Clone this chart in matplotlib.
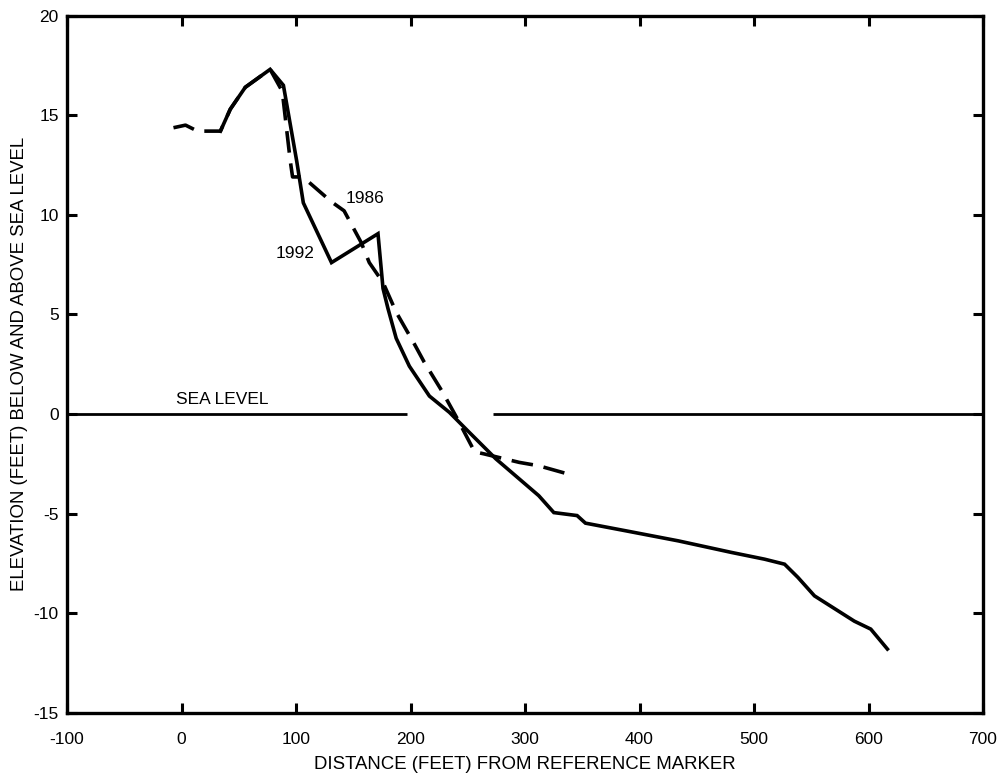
import numpy as np
import matplotlib
matplotlib.use("Agg")
import matplotlib.pyplot as plt

plt.rcParams['font.family'] = ['Liberation Sans', 'DejaVu Sans']
plt.rcParams['axes.unicode_minus'] = False

# 1992 profile (solid)
x_1992 = [34, 42.6, 55.7, 77.4, 89, 100.6, 106.4, 131, 171.6, 176, 180.3, 187.5, 199,
          216.5, 234, 251.3, 274.5, 312, 325.2, 345.5, 352.8, 387.6, 433.9, 480.3,
          509.3, 526.7, 538.3, 552.8, 587.6, 602, 616.5]
y_1992 = [14.2, 15.3, 16.4, 17.3, 16.5, 12.7, 10.6, 7.6, 9.05, 6.3, 5.3, 3.8, 2.4,
          0.9, 0.08, -0.92, -2.25, -4.1, -4.95, -5.1, -5.48, -5.86, -6.37, -6.95,
          -7.29, -7.54, -8.2, -9.13, -10.4, -10.8, -11.8]

# 1986 profile (dashed)
x_1986 = [-7, 3.5, 14, 34, 42.6, 55.7, 77.4, 88, 95, 97, 106, 131, 142, 157, 164,
          176, 187.6, 203.5, 212, 228, 241, 256, 264, 295, 312, 343]
y_1986 = [14.37, 14.5, 14.2, 14.2, 15.3, 16.4, 17.3, 16.2, 12.7, 11.9, 11.9, 10.65,
          10.2, 8.6, 7.6, 6.6, 5.1, 3.5, 2.6, 1.1, -0.25, -1.9, -2.0, -2.43, -2.6, -3.1]

# sea level line pieces
sea_x1 = [-100, 197]
sea_x2 = [272, 700]

fig = plt.figure(figsize=(10, 7.79), dpi=100)
ax = fig.add_axes([0.067, 0.085, 0.916, 0.895])

ax.plot(sea_x1, [0, 0], color='black', lw=2.0, solid_capstyle='butt')
ax.plot(sea_x2, [0, 0], color='black', lw=2.0, solid_capstyle='butt')

ax.plot(x_1992, y_1992, color='black', lw=2.6, solid_joinstyle='miter')
ax.plot(x_1986, y_1986, color='black', lw=2.6, linestyle=(0, (6, 3)),
        dash_capstyle='butt')

ax.text(-5, 0.35, 'SEA LEVEL', fontsize=12.5, ha='left', va='bottom')
ax.text(160, 10.8, '1986', fontsize=12.5, ha='center', va='center')
ax.text(99, 8.05, '1992', fontsize=12.5, ha='center', va='center')

ax.set_xlim(-100, 700)
ax.set_ylim(-15, 20)
ax.set_xticks(np.arange(-100, 701, 100))
ax.set_yticks(np.arange(-15, 21, 5))
ax.tick_params(direction='in', length=7, width=2.2, top=True, right=True,
               labelsize=12.5)
ax.tick_params(axis='x', pad=14)
ax.tick_params(axis='y', pad=6)
for s in ax.spines.values():
    s.set_linewidth(2.4)

ax.set_xlabel('DISTANCE (FEET) FROM REFERENCE MARKER', fontsize=13.4, labelpad=6)
ax.set_ylabel('ELEVATION (FEET) BELOW AND ABOVE SEA LEVEL', fontsize=13.4, labelpad=4)

fig.savefig('out.png', dpi=100)
